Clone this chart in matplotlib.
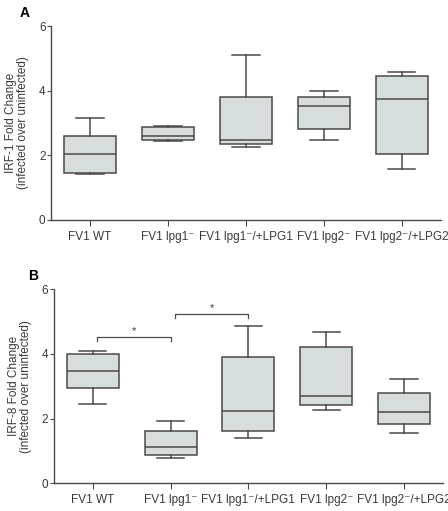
import matplotlib
matplotlib.use('Agg')
import matplotlib.pyplot as plt

plt.rcParams['font.family'] = ['Liberation Sans', 'DejaVu Sans']

groups = ['FV1 WT', 'FV1 lpg1\u207b', 'FV1 lpg1\u207b/+LPG1', 'FV1 lpg2\u207b', 'FV1 lpg2\u207b/+LPG2']

# IRF-1 (panel A): whisker low, q1, median, q3, whisker high
irf1_low = [1.43, 2.44, 2.25, 2.46, 1.58]
irf1_q1 = [1.44, 2.47, 2.35, 2.81, 2.04]
irf1_med = [2.05, 2.60, 2.49, 3.53, 3.73]
irf1_q3 = [2.60, 2.88, 3.79, 3.79, 4.45]
irf1_high = [3.14, 2.91, 5.10, 4.00, 4.59]

# IRF-8 (panel B)
irf8_low = [2.44, 0.77, 1.41, 2.27, 1.55]
irf8_q1 = [2.94, 0.88, 1.62, 2.41, 1.84]
irf8_med = [3.46, 1.11, 2.24, 2.71, 2.21]
irf8_q3 = [4.00, 1.61, 3.89, 4.20, 2.78]
irf8_high = [4.08, 1.92, 4.85, 4.69, 3.21]

# significance brackets in panel B: (group i, group j, height)
sig_pairs = [(1, 2, 4.52), (2, 3, 5.23)]

fill = '#d7dcdc'
edge = '#4a4a4a'
txt = '#3a3a3a'


def draw(ax, lo, q1, med, q3, hi, ylabel):
    stats = []
    for i in range(len(groups)):
        stats.append(dict(whislo=lo[i], q1=q1[i], med=med[i], q3=q3[i], whishi=hi[i], fliers=[]))
    ax.bxp(stats, positions=range(1, len(groups) + 1), widths=0.67, patch_artist=True,
           showfliers=False,
           boxprops=dict(facecolor=fill, edgecolor=edge, linewidth=1.1),
           medianprops=dict(color=edge, linewidth=1.1),
           whiskerprops=dict(color=edge, linewidth=1.1),
           capprops=dict(color=edge, linewidth=1.1), capwidths=0.35)
    ax.set_xlim(0.5, 5.5)
    ax.set_ylim(0, 6)
    ax.set_yticks([0, 2, 4, 6])
    ax.set_xticks(range(1, len(groups) + 1))
    ax.set_xticklabels(groups, fontsize=8.5, color=txt)
    ax.tick_params(axis='y', labelsize=8.5, labelcolor=txt, color=edge, length=3, pad=1)
    ax.tick_params(axis='x', color=edge, length=4, pad=4)
    for s in ['top', 'right']:
        ax.spines[s].set_visible(False)
    for s in ['left', 'bottom']:
        ax.spines[s].set_color(edge)
        ax.spines[s].set_linewidth(1.0)
    ax.set_ylabel(ylabel, fontsize=8.5, color=txt, labelpad=7, linespacing=1.0)


fig = plt.figure(figsize=(4.48, 5.11), dpi=100)
axA = fig.add_axes([0.114, 0.5695, 0.870, 0.3795])
axB = fig.add_axes([0.1205, 0.0542, 0.868, 0.3798])

draw(axA, irf1_low, irf1_q1, irf1_med, irf1_q3, irf1_high,
     'IRF-1 Fold Change\n(infected over uninfected)')
draw(axB, irf8_low, irf8_q1, irf8_med, irf8_q3, irf8_high,
     'IRF-8 Fold Change\n(infected over uninfected)')

for i, j, h in sig_pairs:
    axB.plot([i + 0.05, i + 0.05, j, j], [h - 0.12, h, h, h - 0.12], color=edge, lw=0.9)
    axB.text((i + j) / 2 + 0.025, h + 0.02, '*', ha='center', va='bottom', fontsize=8, color=txt)

fig.text(25 / 448, 1 - 13 / 511, 'A', fontsize=10, fontweight='bold', ha='center', va='center')
fig.text(33 / 448, 1 - 276 / 511, 'B', fontsize=10, fontweight='bold', ha='center', va='center')

fig.savefig('out.png', dpi=100)
